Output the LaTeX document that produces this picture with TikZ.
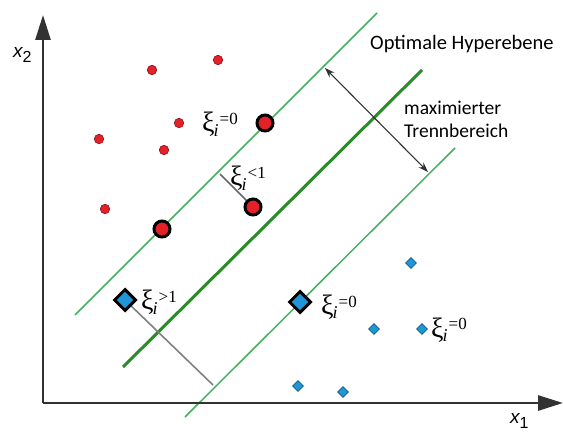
\documentclass[tikz,border=0pt]{standalone}
\usepackage{fontspec}
\setmainfont{Carlito}
\newfontfamily\tnr{Liberation Serif}
\newfontfamily\arialf{Liberation Sans}
\usetikzlibrary{arrows.meta,shapes.geometric}
\definecolor{pred}{RGB}{228,32,40}
\definecolor{pblue}{RGB}{30,150,215}
\definecolor{mgreen}{RGB}{70,175,95}
\definecolor{cgreen}{RGB}{40,140,40}
\definecolor{axisc}{RGB}{50,50,50}
\newcommand\xilab[1]{{\fontsize{28}{30}\selectfont\tnr ξ}\kern-1pt\raisebox{-5pt}{\fontsize{18}{18}\selectfont\tnr\itshape i}\kern1pt\raisebox{7pt}{\fontsize{17}{17}\selectfont\tnr #1}}
\newcommand\axlab[1]{{\fontsize{19}{20}\selectfont\arialf\itshape x}\raisebox{-5pt}{\fontsize{16}{16}\selectfont\arialf #1}}
\begin{document}
\begin{tikzpicture}[x=1pt,y=-1pt,
  reddot/.style={circle,fill=pred,draw=pred!60!black,line width=0.6pt,minimum size=9.5pt,inner sep=0pt},
  redsv/.style={circle,fill=pred,draw=black,line width=3pt,minimum size=16pt,inner sep=0pt},
  bluedot/.style={diamond,fill=pblue,draw=pblue!60!black,line width=0.6pt,minimum size=11pt,inner sep=0pt},
  bluesv/.style={diamond,fill=pblue,draw=black,line width=3pt,minimum size=22pt,inner sep=0pt},
  marginline/.style={mgreen,line width=1.5pt},
  centerline/.style={cgreen,line width=3pt},
  slackline/.style={gray,line width=1.6pt},
  axisline/.style={axisc,line width=2.8pt,-{Triangle[length=25pt,width=15pt]}},
  lbl/.style={inner sep=0pt,anchor=base west},
  txt/.style={inner sep=0pt,anchor=base west,font=\fontsize{19.5}{23}\selectfont}
]
\useasboundingbox (0,0) rectangle (563,433);
% hyperplanes
\coordinate (u1) at (75,315); \coordinate (u2) at (377,13);
\coordinate (c1) at (123,367); \coordinate (c2) at (422,70);
\coordinate (l1) at (185,417); \coordinate (l2) at (455,148);
\draw[marginline] (u1) -- (u2);
\draw[centerline] (c1) -- (c2);
\draw[marginline] (l1) -- (l2);
% axes
\coordinate (o) at (43,403);
\coordinate (ytip) at (43,15);
\coordinate (xtip) at (563,403);
\draw[axisline] (o) -- (ytip);
\draw[axisline] (o) -- (xtip);
\node[lbl] (lx2) at (13,58) {\axlab{2}};
\node[lbl] (lx1) at (510,423) {\axlab{1}};
% margin arrow
\coordinate (ma) at (325,68); \coordinate (mb) at (428,172);
\draw[axisc,line width=1.1pt,{Stealth[length=10pt,width=7pt]}-{Stealth[length=10pt,width=7pt]}] (ma) -- (mb);
\node[txt] (t1) at (370,50) {\fontsize{20.5}{23}\selectfont Optimale Hyperebene};
\node[txt] (t2) at (404,115) {maximierter};
\node[txt] (t3) at (404,138) {Trennbereich};
% slack connectors
\coordinate (s1) at (220,174);
\coordinate (s2) at (213,385);
% red points
\node[reddot] (r1) at (152,70) {};
\node[reddot] (r2) at (218,60) {};
\node[reddot] (r3) at (179,123) {};
\node[reddot] (r4) at (99,139) {};
\node[reddot] (r5) at (164,150) {};
\node[reddot] (r6) at (105,209) {};
\node[redsv] (R1) at (265,123) {};
\node[redsv] (R3) at (162,229) {};
% blue points
\node[bluedot] (b1) at (411,263) {};
\node[bluedot] (b2) at (374,329) {};
\node[bluedot] (b3) at (422,329) {};
\node[bluedot] (b4) at (298,386) {};
\node[bluedot] (b5) at (343,392) {};
\node[bluesv] (B2) at (300,302) {};
\coordinate (R2c) at (253,207);
\coordinate (B1c) at (125,300);
\draw[slackline,draw=gray!80!black] (s1) -- (R2c);
\draw[slackline] (B1c) -- (s2);
\node[redsv] (R2) at (R2c) {};
\node[bluesv] (B1) at (B1c) {};
% labels
\node[lbl] (x1) at (202,132) {\xilab{=0}};
\node[lbl] (x2) at (230,186) {\xilab{<1}};
\node[lbl] (x3) at (141,309) {\xilab{>1}};
\node[lbl] (x4) at (321,314) {\xilab{=0}};
\node[lbl] (x5) at (431,337) {\xilab{=0}};
\end{tikzpicture}
\end{document}
